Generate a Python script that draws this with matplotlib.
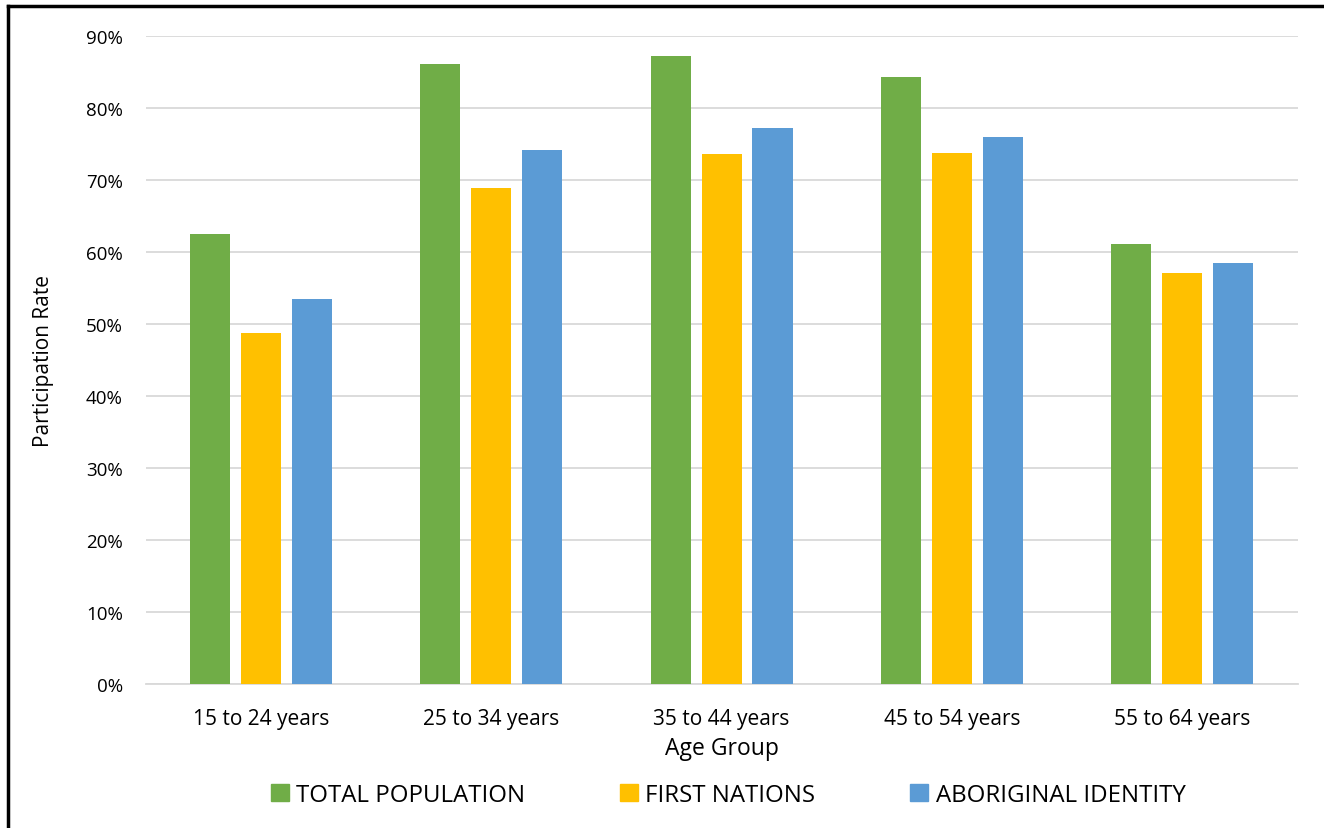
import numpy as np
import matplotlib
matplotlib.use("Agg")
import matplotlib.pyplot as plt
from matplotlib.ticker import PercentFormatter
from matplotlib.patches import Patch

plt.rcParams['font.family'] = ['Open Sans', 'DejaVu Sans']

age_groups = ['15 to 24 years', '25 to 34 years', '35 to 44 years',
              '45 to 54 years', '55 to 64 years']
total_population = [62.5, 86.1, 87.2, 84.3, 61.1]
first_nations = [48.8, 68.9, 73.6, 73.7, 57.1]
aboriginal_identity = [53.5, 74.1, 77.2, 76.0, 58.5]

series = [
    ('TOTAL POPULATION', total_population, '#70ad47'),
    ('FIRST NATIONS', first_nations, '#ffc000'),
    ('ABORIGINAL IDENTITY', aboriginal_identity, '#5b9bd5'),
]

fig = plt.figure(figsize=(13.24, 8.29), dpi=100)
ax = fig.add_axes([0.110, 0.1737, 0.870, 0.7817])

x = np.arange(len(age_groups))
width = 0.174
step = 0.221
for i, (name, vals, color) in enumerate(series):
    ax.bar(x + (i - 1) * step, vals, width, color=color, label=name, zorder=3)

ax.set_xlim(-0.5, len(age_groups) - 0.5)
ax.set_ylim(0, 90)
ax.set_yticks(np.arange(0, 91, 10))
ax.yaxis.set_major_formatter(PercentFormatter(decimals=0))
ax.set_xticks(x)
ax.set_xticklabels(age_groups)
ax.tick_params(axis='y', length=0, labelsize=13.5, pad=16.5)
ax.tick_params(axis='x', length=0, labelsize=15, pad=17)
ax.grid(axis='y', color='#d9d9d9', linewidth=1.3, zorder=0)
for s in ['top', 'right', 'left']:
    ax.spines[s].set_visible(False)
ax.spines['bottom'].set_color('#d9d9d9')
ax.spines['bottom'].set_linewidth(1.3)

ax.set_ylabel('Participation Rate', fontsize=15, labelpad=23)
ax.set_xlabel('Age Group', fontsize=16.5, labelpad=5)

handles = [Patch(color=c, label=n) for n, _, c in series]
fig.legend(handles=handles, loc='center', bbox_to_anchor=(0.550, 0.040),
           ncol=3, frameon=False, fontsize=17.3, handlelength=0.75,
           handleheight=0.75, handletextpad=0.3, columnspacing=3.95)

# border around the chart (left and top edges visible)
fig.add_artist(plt.Line2D([0.0063, 0.0063], [0, 0.9915], color='black', lw=2.5,
                          transform=fig.transFigure))
fig.add_artist(plt.Line2D([0.0063, 1.0], [0.9915, 0.9915], color='black', lw=2.5,
                          transform=fig.transFigure))

fig.savefig('out.png', dpi=100)
